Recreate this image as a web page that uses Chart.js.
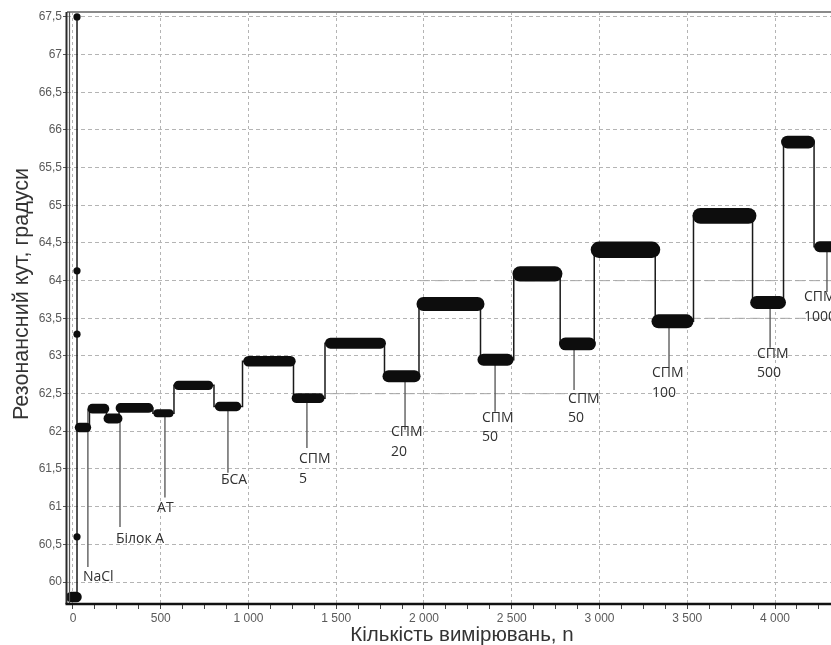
<!DOCTYPE html>
<html>
<head>
<meta charset="utf-8">
<script src="https://cdn.jsdelivr.net/npm/chart.js@4.4.1/dist/chart.umd.min.js"></script>
<style>
  html, body { margin: 0; padding: 0; background: #ffffff; }
  canvas { display: block; }
</style>
</head>
<body>
<canvas id="chart" width="831" height="645"></canvas>
<script>
// Axis ranges
const xMin = -34, xMax = 4319;
const yMin = 59.708, yMax = 67.566;

// Tick values and their labels
const xTickValues = [0, 500, 1000, 1500, 2000, 2500, 3000, 3500, 4000];
const xTickLabels = ['0', '500', '1 000', '1 500', '2 000', '2 500', '3 000', '3 500', '4 000'];
const xMinorStep = 125;
const yTickValues = [60, 60.5, 61, 61.5, 62, 62.5, 63, 63.5, 64, 64.5, 65, 65.5, 66, 66.5, 67, 67.5];
const yTickLabels = ['60', '60,5', '61', '61,5', '62', '62,5', '63', '63,5', '64', '64,5', '65', '65,5', '66', '66,5', '67', '67,5'];

// Measurement runs: first and last measurement number, mean resonance angle and noise band (degrees)
const runStart  = [-10, 37, 111, 202, 271, 481, 601, 835, 1000, 1274, 1467, 1798, 1997, 2339, 2547, 2806, 2997, 3336, 3575, 3895, 4071, 4254];
const runEnd    = [20, 77, 179, 254, 430, 550, 772, 932, 1239, 1405, 1752, 1946, 2305, 2476, 2746, 2943, 3299, 3496, 3849, 4026, 4191, 4400];
const runLevel  = [59.8, 62.05, 62.30, 62.17, 62.31, 62.24, 62.61, 62.33, 62.93, 62.44, 63.17, 62.73, 63.69, 62.95, 64.09, 63.16, 64.41, 63.46, 64.86, 63.71, 65.84, 64.45];
const runSpread = [0.14, 0.125, 0.13, 0.13, 0.13, 0.105, 0.125, 0.125, 0.14, 0.13, 0.145, 0.16, 0.185, 0.16, 0.2, 0.17, 0.22, 0.185, 0.21, 0.17, 0.17, 0.145];

// Calibration readings taken before the first run
const spikeX = 23;
const spikeValues = [67.5, 64.13, 63.29, 60.6];

// Sample annotations: leader line (x, from, to) and label anchor
const calloutX    = [85, 268, 524, 883, 1333, 1892, 2405, 2855, 3396, 3972, 4296];
const calloutFrom = [62.30, 62.17, 62.24, 62.33, 62.44, 62.73, 62.95, 63.16, 63.46, 63.71, 64.45];
const calloutTo   = [60.20, 60.73, 61.12, 61.45, 61.78, 62.02, 62.26, 62.55, 62.85, 63.11, 63.85];
const labelX      = [57, 245, 479, 843, 1288, 1812, 2330, 2821, 3299, 3897, 4165];
const labelY      = [60.07, 60.57, 60.98, 61.35, 61.63, 61.99, 62.18, 62.43, 62.77, 63.03, 63.78];
const labelText   = [['NaCl'], ['Білок А'], ['АТ'], ['БСА'], ['СПМ', '5'], ['СПМ', '20'], ['СПМ', '50'],
                     ['СПМ', '50'], ['СПМ', '100'], ['СПМ', '500'], ['СПМ', '1000']];

// Reference levels (long-dash guides)
const refLevel = [62.5, 64.0, 63.5];
const refFrom  = [1464, 1977, 3516];
const refTo    = [3003, 4400, 4400];

// ---- build datasets ----
function bandWidth(chart, spread) {
  const s = chart.scales.y;
  if (!s) return 10;
  return Math.abs(s.getPixelForValue(yMin + spread) - s.getPixelForValue(yMin));
}

const runDatasets = runLevel.map((lvl, i) => ({
  data: [{ x: runStart[i], y: lvl }, { x: runEnd[i], y: lvl }],
  borderColor: '#0d0d0d',
  borderWidth: (ctx) => bandWidth(ctx.chart, runSpread[i]),
  borderCapStyle: 'round',
  pointRadius: 0,
  clip: 0
}));

// Continuous trace through all runs (thin line with step transitions)
const tracePoints = [];
runLevel.forEach((lvl, i) => {
  tracePoints.push({ x: runStart[i], y: lvl }, { x: runEnd[i], y: lvl });
  if (i === 0) {
    tracePoints.push({ x: spikeX, y: lvl }, { x: spikeX, y: Math.max(...spikeValues) }, { x: spikeX, y: runLevel[1] });
  }
});

const calloutPoints = [];
calloutX.forEach((x, i) => {
  calloutPoints.push({ x, y: calloutFrom[i] }, { x, y: calloutTo[i] }, { x, y: null });
});

const refPoints = [];
refLevel.forEach((lvl, i) => {
  refPoints.push({ x: refFrom[i], y: lvl }, { x: refTo[i], y: lvl }, { x: refTo[i], y: null });
});

const datasets = [
  ...runDatasets,
  {
    data: spikeValues.map(v => ({ x: spikeX, y: v })),
    showLine: false,
    pointRadius: 3.6,
    pointBackgroundColor: '#0d0d0d',
    pointBorderWidth: 0
  },
  {
    data: tracePoints,
    borderColor: '#1a1a1a',
    borderWidth: 1.5,
    stepped: 'middle',
    pointRadius: 0,
    clip: 0
  },
  {
    data: calloutPoints,
    borderColor: '#5e5e5e',
    borderWidth: 1.4,
    pointRadius: 0,
    spanGaps: false
  },
  {
    data: refPoints,
    borderColor: '#a8a8a8',
    borderWidth: 1,
    borderDash: [10, 5],
    pointRadius: 0,
    spanGaps: false
  }
];

// ---- plugins ----
const framePlugin = {
  id: 'frame',
  afterDatasetsDraw(chart) {
    const { ctx, chartArea: a } = chart;
    const seg = (x1, y1, x2, y2) => { ctx.beginPath(); ctx.moveTo(x1, y1); ctx.lineTo(x2, y2); ctx.stroke(); };
    ctx.save();
    ctx.strokeStyle = '#8a8a8a'; ctx.lineWidth = 2;
    seg(a.left, a.top, a.right, a.top);
    ctx.strokeStyle = '#2a2a2a'; ctx.lineWidth = 2;
    seg(a.left - 0.5, a.top, a.left - 0.5, a.bottom);
    ctx.strokeStyle = '#555555'; ctx.lineWidth = 1.2;
    seg(a.left + 2.5, a.top, a.left + 2.5, a.bottom);
    ctx.strokeStyle = '#111111'; ctx.lineWidth = 2.6;
    seg(a.left - 1.5, a.bottom, a.right, a.bottom);
    ctx.restore();
  }
};

const labelPlugin = {
  id: 'sampleLabels',
  afterDatasetsDraw(chart) {
    const { ctx, scales: { x, y } } = chart;
    ctx.save();
    ctx.fillStyle = '#303030';
    ctx.font = '14px "Open Sans"';
    ctx.textAlign = 'left';
    ctx.textBaseline = 'middle';
    labelText.forEach((lines, i) => {
      const px = x.getPixelForValue(labelX[i]);
      const py = y.getPixelForValue(labelY[i]);
      lines.forEach((t, k) => ctx.fillText(t, px, py + k * 19.5));
    });
    ctx.restore();
  }
};

const titlePlugin = {
  id: 'axisTitles',
  afterDraw(chart) {
    const { ctx } = chart;
    ctx.save();
    ctx.fillStyle = '#333333';
    ctx.textAlign = 'center';
    ctx.textBaseline = 'alphabetic';
    ctx.font = '20.5px "Liberation Sans"';
    ctx.fillText('Кількість вимірювань, n', 462, 641);
    ctx.font = '21.5px "Liberation Sans"';
    ctx.translate(27.5, 294);
    ctx.rotate(-Math.PI / 2);
    ctx.fillText('Резонансний кут, градуси', 0, 0);
    ctx.restore();
  }
};

// ---- chart ----
const xAllTicks = [];
for (let v = 0; v <= xMax; v += xMinorStep) xAllTicks.push(v);

new Chart(document.getElementById('chart'), {
  type: 'line',
  data: { datasets },
  plugins: [framePlugin, labelPlugin, titlePlugin],
  options: {
    responsive: false,
    animation: false,
    devicePixelRatio: 1,
    events: [],
    layout: { autoPadding: false, padding: { top: 12, left: 0, right: 0, bottom: 0 } },
    plugins: { legend: { display: false }, tooltip: { enabled: false } },
    scales: {
      x: {
        type: 'linear',
        min: xMin,
        max: xMax,
        afterBuildTicks: (s) => { s.ticks = xAllTicks.map(v => ({ value: v })); },
        afterFit: (s) => { s.height = 41; s.paddingLeft = 0; s.paddingRight = 0; },
        ticks: {
          autoSkip: false,
          maxRotation: 0,
          padding: 2,
          color: '#5a5a5a',
          font: { family: '"Liberation Sans"', size: 12 },
          callback: (v) => {
            const k = xTickValues.indexOf(v);
            return k >= 0 ? xTickLabels[k] : '';
          }
        },
        grid: {
          color: (c) => (c.tick && xTickValues.includes(c.tick.value)) ? '#b4b4b4' : 'rgba(0,0,0,0)',
          lineWidth: 1,
          drawTicks: true,
          tickLength: 5,
          tickColor: '#444444',
          tickWidth: 1
        },
        border: { display: false, dash: [3, 3] }
      },
      y: {
        type: 'linear',
        min: yMin,
        max: yMax,
        afterBuildTicks: (s) => { s.ticks = yTickValues.map(v => ({ value: v })); },
        afterFit: (s) => { s.width = 67; },
        ticks: {
          autoSkip: false,
          padding: 1,
          color: '#5a5a5a',
          font: { family: '"Liberation Sans"', size: 12 },
          callback: (v) => {
            const k = yTickValues.indexOf(v);
            return k >= 0 ? yTickLabels[k] : '';
          }
        },
        grid: {
          color: '#b4b4b4',
          lineWidth: 1,
          drawTicks: true,
          tickLength: 4,
          tickColor: '#555555',
          tickWidth: 1
        },
        border: { display: false, dash: [4, 3] }
      }
    }
  }
});
</script>
</body>
</html>
